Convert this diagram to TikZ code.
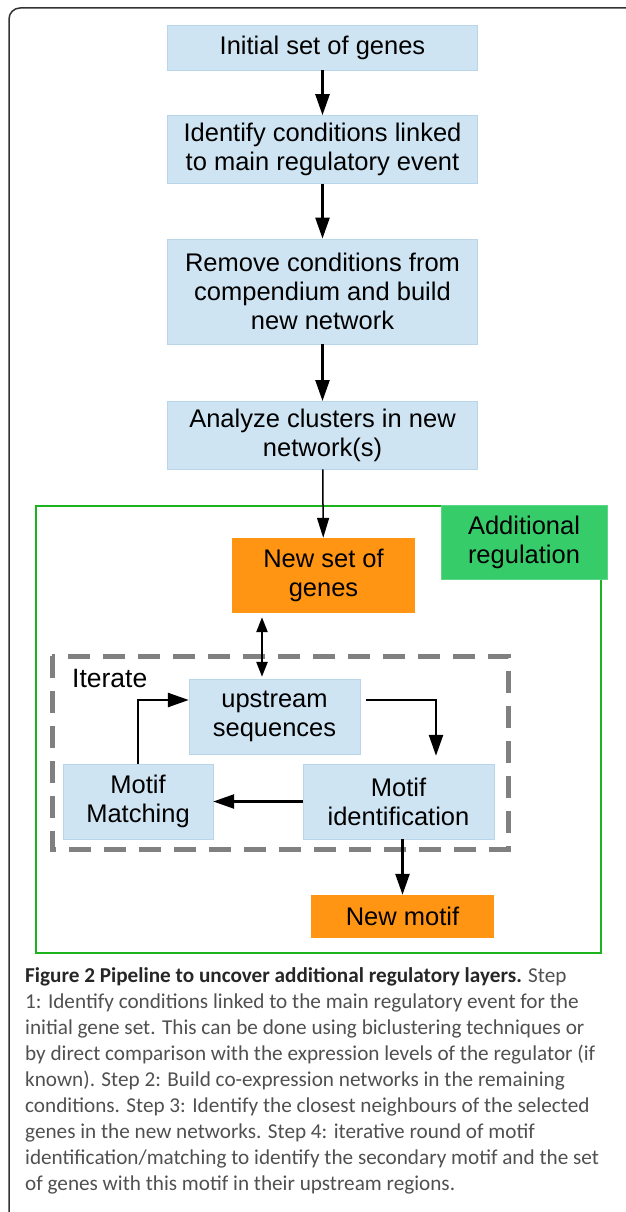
\documentclass[tikz,border=0pt]{standalone}
\usepackage{fontspec}
\setmainfont{Liberation Sans}
\newfontfamily\capfont{Carlito}
\usetikzlibrary{positioning,arrows.meta}
\definecolor{boxblue}{HTML}{CFE4F2}
\definecolor{boxedge}{HTML}{B9D5EA}
\definecolor{geneorange}{HTML}{FF9512}
\definecolor{reggreen}{HTML}{36CC6A}
\definecolor{framegreen}{HTML}{1DB31D}
\definecolor{capgray}{HTML}{505050}
\begin{document}
\begin{tikzpicture}[x=1pt, y=-1pt,
  main/.style = {draw=boxedge, fill=boxblue, align=center, inner sep=0pt, minimum width=310pt, font=\fontsize{25.5}{29}\selectfont},
  loopbox/.style = {main, minimum height=75pt},
  result/.style = {fill=geneorange, align=center, inner sep=0pt, minimum width=183pt, font=\fontsize{25.5}{29}\selectfont},
  arr/.style = {line width=2.5pt, -{Triangle[width=14pt,length=21pt]}}]
\useasboundingbox (0,0) rectangle (625,1212);
\draw[black!80, line width=1.5pt, rounded corners=11pt] (9,1216) -- (9,8) -- (632,8);

\node[main, minimum height=45pt] (init) at (322.5,47.5) {Initial set of genes};
\node[main, minimum height=68pt] (cond) [below=45pt of init] {Identify conditions linked\\to main regulatory event};
\node[main, minimum height=105pt] (remove) [below=55pt of cond] {Remove conditions from\\compendium and build\\new network};
\node[main, minimum height=68pt] (clust) [below=57pt of remove] {Analyze clusters in new\\network(s)};

\draw[framegreen, line width=2pt] (36,506) rectangle (601,953);
\node[fill=reggreen, draw=reggreen!80!white, align=center, inner sep=0pt, minimum width=166pt, minimum height=74pt, font=\fontsize{25.5}{29}\selectfont] (addreg) at (524,542) {Additional\\regulation};
\node[result, minimum height=75pt] (newset) at (323.5,575.5) {New set of\\genes};

\draw[black!50, line width=5pt, dash pattern=on 22pt off 13pt] (52,656) rectangle (508,849);
\node[anchor=base west, inner sep=0pt, font=\fontsize{26.5}{29}\selectfont] (iter) at (72,687) {Iterate};
\node[loopbox, minimum width=171pt] (ups) at (274.5,716.5) {upstream\\sequences};
\node[loopbox, minimum width=150pt] (match) at (138,801.5) {Motif\\Matching};
\node[loopbox, minimum width=191pt] (ident) at (398.5,801.5) {Motif\\identification};
\node[result, minimum height=43pt] (newmotif) at (402.5,916.5) {New motif};

\draw[arr] (init) -- (cond);
\draw[arr] (cond) -- (remove);
\draw[arr] (remove) -- (clust);
\draw[line width=1.5pt, -{Triangle[width=12pt,length=20pt]}] (clust) -- (newset);
\draw[line width=2.5pt, {Triangle[width=11pt,length=15pt]}-{Triangle[width=11pt,length=15pt]}] ([xshift=-61.5pt,yshift=-4pt]newset.south) -- ([xshift=-12.5pt,yshift=2pt]ups.north);
\draw[arr] (match.north) |- ([yshift=16.5pt]ups.west);
\draw[arr] ([xshift=6pt,yshift=16.5pt]ups.east) -| ([xshift=37.5pt,yshift=8pt]ident.north);
\draw[arr] (ident) -- (match);
\draw[arr] (ident.south -| newmotif.north) -- (newmotif.north);

\node[anchor=north west, align=left, inner sep=0pt, text=capgray, font=\capfont\fontsize{21.2}{26}\selectfont] (cap) at (25,967)
  {\textbf{\color{black!85}Figure 2 Pipeline to uncover additional regulatory layers.} Step\\
   1: Identify conditions linked to the main regulatory event for the\\
   initial gene set. This can be done using biclustering techniques or\\
   by direct comparison with the expression levels of the regulator (if\\
   known). Step 2: Build co-expression networks in the remaining\\
   conditions. Step 3: Identify the closest neighbours of the selected\\
   genes in the new networks. Step 4: iterative round of motif\\
   identification/matching to identify the secondary motif and the set\\
   of genes with this motif in their upstream regions.};
\end{tikzpicture}
\end{document}
